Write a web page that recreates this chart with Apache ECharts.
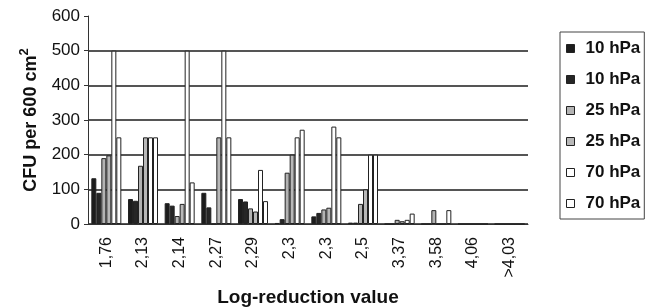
<!DOCTYPE html>
<html>
<head>
<meta charset="utf-8">
<script src="https://cdn.jsdelivr.net/npm/echarts@6/dist/echarts.min.js"></script>
<style>
  html, body { margin: 0; padding: 0; background: #fff; }
  #chart { width: 660px; height: 307px; }
</style>
</head>
<body>
<div id="chart"></div>
<script>
// log-reduction values on the x axis
const categories = ['1,76', '2,13', '2,14', '2,27', '2,29', '2,3', '2,3', '2,5', '3,37', '3,58', '4,06', '>4,03']
const legendLabels = ['10 hPa', '10 hPa', '25 hPa', '25 hPa', '70 hPa', '70 hPa']
const hpa10a = [132, 72, 60, 90, 72, 3, 22, 4, 0, 0, 0, 0]
const hpa10b = [90, 67, 53, 48, 65, 14, 32, 4, 0, 0, 0, 0]
const hpa25a = [190, 168, 23, 0, 45, 148, 42, 58, 12, 40, 0, 0]
const hpa25b = [198, 250, 58, 250, 36, 200, 47, 100, 8, 0, 0, 0]
const hpa70a = [500, 250, 500, 500, 156, 250, 281, 200, 12, 0, 0, 0]
const hpa70b = [250, 250, 120, 250, 66, 272, 250, 200, 30, 40, 0, 0]
const yTicks = [0, 100, 200, 300, 400, 500, 600]

const seriesData = [hpa10a, hpa10b, hpa25a, hpa25b, hpa70a, hpa70b]
const fills = ['#1c1c1c', '#262626', '#b3b3b3', '#b8b8b8', '#ffffff', '#ffffff']
const font = 'Liberation Sans, Arial, sans-serif'

let myChart = echarts.init(document.getElementById('chart'))
let series = seriesData.map((d, i) => ({
  name: 's' + i,
  type: 'bar',
  data: d,
  barWidth: 5,
  barGap: '0%',
  itemStyle: {
    color: fills[i],
    borderColor: '#222',
    borderWidth: 1
  },
  emphasis: { disabled: true }
}))

let option = {
  animation: false,
  grid: {
    left: 88,
    right: 132,
    top: 16,
    bottom: 83,
    outerBoundsMode: 'none'
  },
  legend: {
    orient: 'vertical',
    left: 560,
    top: 32,
    padding: [8, 4, 7, 6],
    itemWidth: 8,
    itemHeight: 8,
    itemGap: 14,
    borderColor: '#444',
    borderWidth: 1,
    icon: 'rect',
    itemStyle: { borderColor: '#222', borderWidth: 1 },
    textStyle: {
      fontFamily: font,
      fontWeight: 'bold',
      fontSize: 17,
      lineHeight: 17,
      color: '#111',
      padding: [0, 0, 0, 6]
    },
    formatter: function (name) {
      return legendLabels[Number(name.slice(1))]
    }
  },
  xAxis: {
    type: 'category',
    data: categories,
    name: 'Log-reduction value',
    nameLocation: 'middle',
    nameGap: 64,
    nameTextStyle: {
      fontFamily: font,
      fontWeight: 'bold',
      fontSize: 19,
      color: '#111'
    },
    axisLine: { lineStyle: { color: '#333', width: 1 } },
    axisTick: { length: 4, lineStyle: { color: '#333' } },
    axisLabel: {
      rotate: 90,
      margin: 13,
      interval: 0,
      fontFamily: font,
      fontSize: 16,
      color: '#111'
    }
  },
  yAxis: {
    type: 'value',
    min: yTicks[0],
    max: yTicks[yTicks.length - 1],
    interval: 100,
    name: '{a|CFU per 600 cm}{s|2}',
    nameLocation: 'middle',
    nameGap: 48,
    nameTextStyle: {
      rich: {
        a: {
          fontFamily: font,
          fontWeight: 'bold',
          fontSize: 18,
          lineHeight: 22,
          color: '#111',
          verticalAlign: 'bottom'
        },
        s: {
          fontFamily: font,
          fontWeight: 'bold',
          fontSize: 13,
          lineHeight: 22,
          color: '#111',
          verticalAlign: 'top'
        }
      }
    },
    axisLine: { show: true, lineStyle: { color: '#333', width: 1 } },
    axisTick: { show: true, length: 4, lineStyle: { color: '#333' } },
    axisLabel: {
      margin: 8,
      fontFamily: font,
      fontSize: 17,
      color: '#111'
    },
    splitLine: {
      showMaxLine: false,
      lineStyle: { color: '#555', width: 2 }
    }
  },
  series: series
}
myChart.setOption(option)
</script>
</body>
</html>
